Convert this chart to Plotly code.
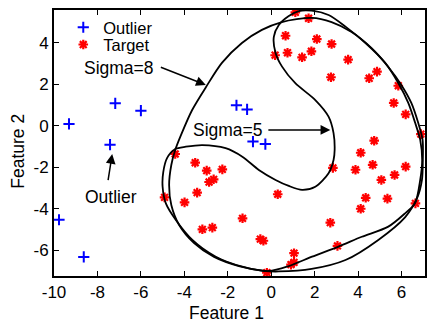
import plotly.graph_objects as go

# Outlier objects (Feature 1, Feature 2)
outlier_x = [-9.31, -7.18, -6.00, -7.42, -9.77, -8.63, -1.60, -1.11, -0.84, -0.27]
outlier_y = [0.10, 1.09, 0.74, -0.90, -4.52, -6.31, 1.00, 0.80, -0.75, -0.87]

# Target objects (Feature 1, Feature 2)
target_x = [-4.42, -3.50, -2.97, -2.25, -2.86, -2.65, -3.41, -4.91, -3.99, -3.17, -2.71,
            4.74, 4.12, 4.67, 6.19, 3.88, 2.84, 5.68, 5.07, 0.30, 4.35, 5.35, 6.64, 4.12,
            -1.32, 2.72, -0.50, -0.36, 3.05, 1.05, 1.05, 0.91, -0.20,
            1.11, 1.72, 0.66, 2.10, 2.78, 1.85, 0.75, 0.18, 1.42, 3.54, 2.75, 4.87, 4.51,
            5.85, 5.64, 6.19, 6.89]
target_y = [-1.35, -1.77, -2.15, -2.09, -2.70, -2.57, -3.21, -3.44, -3.68, -4.98, -4.90,
            -0.71, -1.29, -1.87, -1.96, -2.11, -2.02, -2.36, -2.60, -3.29, -3.46, -3.50, -3.73, -3.99,
            -4.45, -4.66, -5.45, -5.53, -5.78, -6.13, -6.57, -6.68, -7.07,
            5.48, 5.19, 4.35, 4.19, 3.95, 3.60, 3.53, 3.41, 3.31, 3.20, 2.35, 2.62, 2.30,
            1.94, 1.11, 0.56, -0.39]

# Description boundary, Gaussian width sigma = 8
sigma8_x = [-0.26, -1.49, -2.63, -3.55, -4.24, -4.60, -4.70, -4.60, -4.42, -4.15, -3.64,
            -3.00, -2.27, -1.35, -0.43, 0.49, 1.86, 2.78, 3.70, 4.61, 5.39, 5.99, 6.45,
            6.77, 6.97, 6.98, 6.94, 6.72, 6.17, 4.93, 3.42, 1.86, 0.35, -0.26]
sigma8_y = [-6.99, -6.75, -6.31, -5.64, -4.77, -3.81, -2.84, -1.88, -1.16, -0.43, 0.77,
            1.88, 3.04, 4.00, 4.63, 5.01, 5.21, 5.01, 4.53, 3.76, 2.84, 1.98, 1.11,
            0.14, -0.67, -1.64, -2.60, -3.47, -4.39, -5.49, -6.46, -6.89, -7.01, -6.99]

# Description boundary, Gaussian width sigma = 5
sigma5_x = [1.27, 1.86, 2.64, 3.42, 4.34, 5.25, 5.85, 6.31, 6.63, 6.86, 6.95, 6.86, 6.62,
            6.16, 5.39, 4.17, 3.10, 1.88, 0.81, -0.11, -1.33, -2.55, -3.63, -4.39, -4.85,
            -5.00, -4.97, -4.79, -4.42, -3.93, -3.17, -2.10, -1.33, -0.57, 0.20, 0.81,
            1.42, 2.03, 2.64, 2.87, 2.92, 2.87, 2.64, 2.03, 1.11, 0.50, 0.20, 0.12, 0.35,
            0.81, 1.27]
sigma5_y = [5.54, 5.56, 5.35, 4.79, 4.00, 3.04, 2.07, 1.11, 0.14, -0.67, -1.64, -2.60, -3.73,
            -4.21, -4.85, -5.34, -5.81, -6.30, -6.75, -6.99, -6.78, -6.30, -5.49, -4.53, -3.73,
            -2.93, -2.22, -1.54, -1.11, -1.00, -0.92, -1.07, -1.48, -2.12, -2.60, -2.89,
            -3.08, -2.93, -2.28, -1.64, -1.16, -0.34, 0.45, 1.25, 2.06, 2.86, 3.52, 4.30, 4.87,
            5.30, 5.54]

x_ticks = [-10, -8, -6, -4, -2, 0, 2, 4, 6]
y_ticks = [-6, -4, -2, 0, 2, 4]

FONT = "Liberation Sans, Arial, sans-serif"
TXT = 17.5

fig = go.Figure()

fig.add_trace(go.Scatter(
    x=outlier_x, y=outlier_y, mode="markers", name="Outlier", legend="legend",
    marker=dict(symbol="cross-thin", size=8, color="#0000ff",
                line=dict(color="#0000ff", width=2)),
))
fig.add_trace(go.Scatter(
    x=target_x, y=target_y, mode="markers", name="Target", legend="legend2",
    marker=dict(symbol="asterisk", size=8, color="#ff0000",
                line=dict(color="#ff0000", width=2.2)),
))
for bx, by in ((sigma8_x, sigma8_y), (sigma5_x, sigma5_y)):
    fig.add_trace(go.Scatter(
        x=bx, y=by, mode="lines", showlegend=False, hoverinfo="skip",
        line=dict(color="black", width=1.8, shape="spline", smoothing=0.8),
    ))

# text labels
labels = [("Sigma=8", -7.03, 2.80), ("Sigma=5", -1.99, -0.19), ("Outlier", -7.38, -3.42)]
for txt, tx, ty in labels:
    fig.add_annotation(x=tx, y=ty, xref="x", yref="y", text=txt, showarrow=False,
                       font=dict(family=FONT, size=TXT, color="black"))

# arrows: (tail x, tail y, head x, head y)
arrows = [(-5.15, 2.86, -3.01, 1.98), (-0.20, -0.19, 2.72, -0.19), (-7.52, -2.68, -7.32, -1.35)]
for ax0, ay0, hx, hy in arrows:
    fig.add_annotation(x=hx, y=hy, ax=ax0, ay=ay0, xref="x", yref="y",
                       axref="x", ayref="y", text="", showarrow=True,
                       arrowhead=2, arrowsize=1.3, arrowwidth=1.5, arrowcolor="black",
                       standoff=0, startstandoff=0)

# axis titles
fig.add_annotation(x=(227.5 - 54.3) / 373.2, y=-0.14, xref="paper", yref="paper",
                   text="Feature 1", showarrow=False, yanchor="middle",
                   font=dict(family=FONT, size=TXT, color="black"))
fig.add_annotation(x=-0.13, y=0.47, xref="paper", yref="paper",
                   text="Feature 2", showarrow=False, textangle=-90,
                   font=dict(family=FONT, size=TXT, color="black"))

axis_common = dict(
    showgrid=False, zeroline=False, showline=True, linecolor="black", linewidth=2,
    mirror="ticks", ticks="inside", ticklen=5, tickwidth=1, tickcolor="black",
    tickfont=dict(family=FONT, size=17, color="black"),
)
fig.update_xaxes(range=[-10, 7.08], tickvals=x_ticks, ticktext=[str(v) for v in x_ticks],
                 **axis_common)
fig.update_yaxes(range=[-7.23, 5.59], tickvals=y_ticks, ticktext=[str(v) for v in y_ticks],
                 **axis_common)

legend_common = dict(xanchor="left", yanchor="top", bgcolor="rgba(0,0,0,0)", borderwidth=0,
                     font=dict(family=FONT, size=16.5, color="black"), itemwidth=30)
fig.update_layout(
    width=428, height=325,
    margin=dict(l=54, r=1, t=10, b=49),
    paper_bgcolor="white", plot_bgcolor="white",
    font=dict(family=FONT, size=17, color="black"),
    legend=dict(x=0.025, y=1.0, **legend_common),
    legend2=dict(x=0.025, y=0.935, **legend_common),
)

fig.write_html("out.html")
